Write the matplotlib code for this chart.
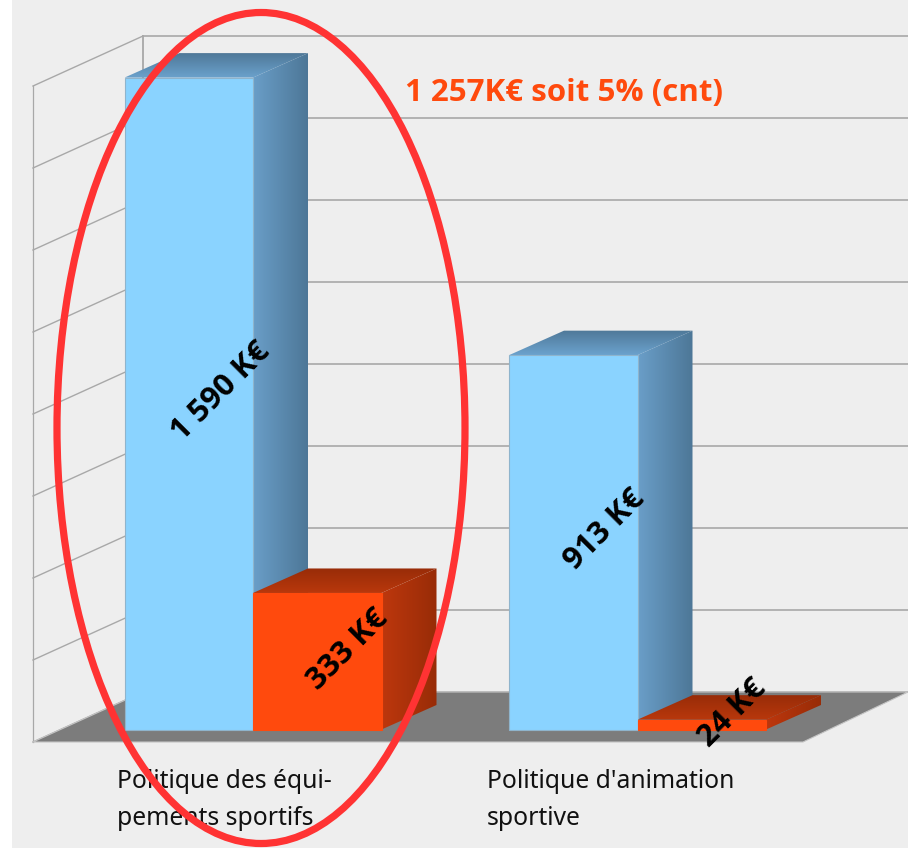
import numpy as np
import matplotlib
matplotlib.use("Agg")
import matplotlib.pyplot as plt
from matplotlib.patches import Polygon, Ellipse, Rectangle

categories = ["Politique des équi-\npements sportifs", "Politique d'animation\nsportive"]
blue_values = [1590, 913]
orange_values = [333, 24]
blue_labels = ["1 590 K€", "913 K€"]
orange_labels = ["333 K€", "24 K€"]
grid_values = [0, 200, 400, 600, 800, 1000, 1200, 1400, 1600]
title_text = "1 257K€ soit 5% (cnt)"

PX = 0.41                     # pixels per K€
BASE = 692                    # pixel row of value 0 on the back wall
fig = plt.figure(figsize=(9.08, 8.48), dpi=100, facecolor="white")
ax = fig.add_axes([0, 0, 1, 1])
ax.set_axis_off()


def px_y(p):
    return (BASE - p) / PX


FONT = "Noto Sans"
BOLD = "Open Sans"
ax.add_patch(Rectangle((12, px_y(848)), 896, 848 / PX, fc="#eeeeee", ec="none", zorder=0))

# walls
wall = "#a8a8a8"
for g in grid_values:
    ax.plot([33, 143], [g - 50 / PX, g], color=wall, lw=1.0, zorder=1)
    ax.plot([143, 908], [g, g], color=wall, lw=1.2, zorder=1)
ax.plot([33, 33], [-50 / PX, 1600 - 50 / PX], color=wall, lw=0.9, zorder=1)
ax.plot([143, 143], [0, 1600], color=wall, lw=1.3, zorder=1)

# floor
ax.add_patch(Polygon([(33, -50 / PX), (143, 0), (908, 0), (803, -50 / PX)],
                     fc="#7c7c7c", ec="#c4c4c4", lw=0.8, zorder=2))


def gradient(poly, c0, c1, horizontal, z):
    xs = [q[0] for q in poly]
    ys = [q[1] for q in poly]
    t = np.linspace(0, 1, 128)
    c0 = np.array(matplotlib.colors.to_rgb(c0))
    c1 = np.array(matplotlib.colors.to_rgb(c1))
    row = c0[None, :] * (1 - t[:, None]) + c1[None, :] * t[:, None]
    img = row[None, :, :] if horizontal else row[:, None, :]
    im = ax.imshow(img, extent=[min(xs), max(xs), min(ys), max(ys)], origin="lower",
                   aspect="auto", zorder=z, interpolation="bilinear")
    im.set_clip_path(Polygon(poly, transform=ax.transData))


DX, DY = 55, 24.5 / PX
BAR_BASE = -37.5 / PX
BAR_W = 128.5


def bar3d(x, value, front, side0, side1, top_front, top_back, edge, z):
    b = BAR_BASE
    t = b + value
    r = x + BAR_W
    gradient([(r, b), (r + DX, b + DY), (r + DX, t + DY), (r, t)], side0, side1, True, z)
    gradient([(x, t), (r, t), (r + DX, t + DY), (x + DX, t + DY)], top_front, top_back, False, z)
    ax.add_patch(Rectangle((x, b), BAR_W, value, fc=front, ec=edge, lw=0.8, zorder=z + 0.1))


lefts = [124.5, 509]
for x, bv, ov in zip(lefts, blue_values, orange_values):
    bar3d(x, bv, "#8ad3ff", "#6a9ec8", "#4d7797", "#6ba2cd", "#4f7898", "#8fb4cc", 3)
    bar3d(x + BAR_W, ov, "#ff4a0d", "#bd370d", "#982c07", "#b9380c", "#982c08", "#ff4a0d", 4)

# data labels
for x, bv, ov, bl, ol in zip(lefts, blue_values, orange_values, blue_labels, orange_labels):
    ax.text(x + BAR_W / 2 + 32, BAR_BASE + bv / 2 + 12 / PX, bl, rotation=45, ha="center", va="center",
            rotation_mode="anchor", fontsize=22.5, fontweight="bold", family=BOLD, color="black", zorder=6)
    ax.text(x + 1.5 * BAR_W + 31, BAR_BASE + ov / 2 + 11.5 / PX, ol, rotation=45, ha="center", va="center",
            rotation_mode="anchor", fontsize=22.5, fontweight="bold", family=BOLD, color="black", zorder=6)

# category labels
for x, c in zip([117, 487], categories):
    ax.text(x, px_y(800), c, ha="left", va="center", fontsize=17.8, family=FONT,
            color="#111111", linespacing=1.66, zorder=6)

ax.text(405, px_y(92.5), title_text, ha="left", va="center", fontsize=22.5, fontweight="bold",
        family=BOLD, color="#ff4a0d", zorder=6)

ax.add_patch(Ellipse((261, px_y(428)), 408, 831 / PX, fc="none", ec="#ff3333", lw=5.2, zorder=8))

ax.set_xlim(0, 908)
ax.set_ylim(px_y(848), px_y(0))
fig.savefig("out.png", dpi=100, facecolor="white")
